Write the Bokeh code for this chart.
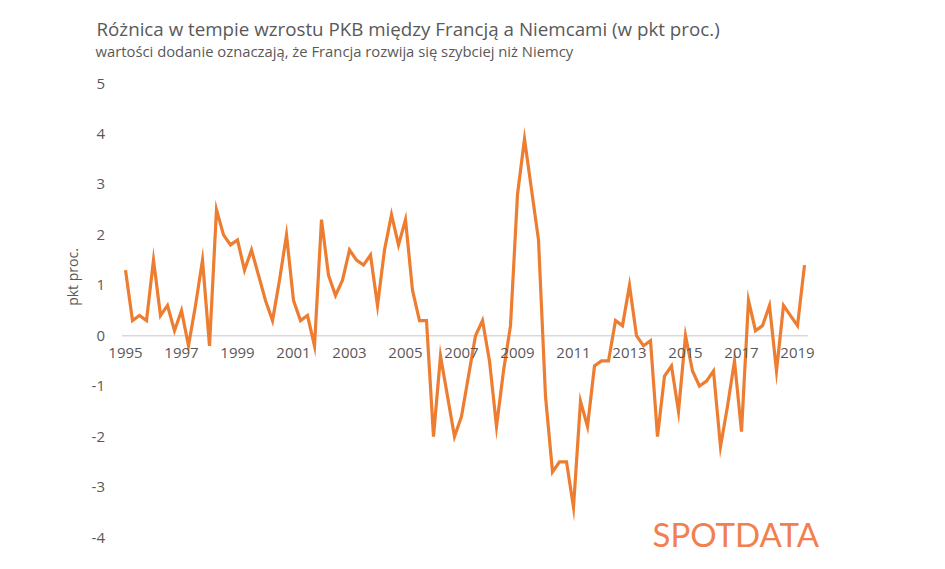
from bokeh.plotting import figure
from bokeh.models import Range1d, FixedTicker, Label
from bokeh.embed import file_html
from bokeh.resources import INLINE

title_text = "Różnica w tempie wzrostu PKB między Francją a Niemcami (w pkt proc.)"
subtitle_text = "wartości dodanie oznaczają, że Francja rozwija się szybciej niż Niemcy"
y_label = "pkt proc."
logo_text = "SPOTDATA"

start_year = 1995
# quarterly difference in GDP growth (France - Germany), 1995Q1 .. 2019Q2
values = [
    1.3, 0.3, 0.4, 0.3, 1.5, 0.4, 0.6, 0.1, 0.5, -0.2, 0.6, 1.5,
    -0.2, 2.5, 2.0, 1.8, 1.9, 1.3, 1.7, 1.2, 0.7, 0.3, 1.1, 2.0,
    0.7, 0.3, 0.4, -0.2, 2.3, 1.2, 0.8, 1.1, 1.7, 1.5, 1.4, 1.6,
    0.6, 1.7, 2.4, 1.8, 2.3, 0.9, 0.3, 0.3, -2.0, -0.4, -1.2, -2.0,
    -1.6, -0.8, 0.0, 0.3, -0.5, -1.8, -0.7, 0.2, 2.8, 3.9, 2.9, 1.9,
    -1.2, -2.7, -2.5, -2.5, -3.4, -1.3, -1.8, -0.6, -0.5, -0.5, 0.3, 0.2,
    1.0, 0.0, -0.2, -0.1, -2.0, -0.8, -0.6, -1.5, 0.0, -0.7, -1.0, -0.9,
    -0.7, -2.2, -1.4, -0.5, -1.9, 0.7, 0.1, 0.2, 0.6, -0.7, 0.6, 0.4,
    0.2, 1.4,
]
tick_years = [1995, 1997, 1999, 2001, 2003, 2005, 2007, 2009, 2011, 2013, 2015, 2017, 2019]
tick_year_labels = [str(y) for y in tick_years]
y_ticks = [-4, -3, -2, -1, 0, 1, 2, 3, 4, 5]
y_tick_labels = ["-4", "-3", "-2", "-1", "0", "1", "2", "3", "4", "5"]

x = [start_year + i / 4 for i in range(len(values))]

TEXT = "#595959"
ORANGE = "#ED7D31"
FONT = "Open Sans"

# layout (canvas pixels)
W, H = 929, 553
AREA_LEFT, AREA_TOP, AREA_BOTTOM = 121.5, 83.0, 537.0
PX_PER_YEAR = 28.0
Y_MIN, Y_MAX = -4, 5

x_lo = x[0] - 0.125
x_hi = x[-1] + 0.125
px_per_unit = (AREA_BOTTOM - AREA_TOP) / (Y_MAX - Y_MIN)

x_range = Range1d(x_lo - AREA_LEFT / PX_PER_YEAR, x_lo + (W - AREA_LEFT) / PX_PER_YEAR)
y_range = Range1d(Y_MIN - (H - AREA_BOTTOM) / px_per_unit, Y_MAX + AREA_TOP / px_per_unit)

p = figure(
    frame_width=W, frame_height=H,
    min_border=0,
    x_range=x_range, y_range=y_range,
    output_backend="svg", toolbar_location=None, tools="",
    background_fill_color="white", border_fill_color="white",
)
p.outline_line_color = None
p.grid.visible = False

# zero line (horizontal axis line of the plot area)
p.segment(x0=[x_lo], x1=[x_hi], y0=[0], y1=[0], line_color="#D9D9D9", line_width=1.5)

p.line(x, values, line_color=ORANGE, line_width=3.2, line_join="miter")

# x axis drawn at y = 0
xa = p.xaxis[0]
xa.fixed_location = 0
xa.ticker = FixedTicker(ticks=tick_years)
xa.major_label_overrides = dict(zip(tick_years, tick_year_labels))
xa.axis_line_color = None
xa.major_tick_line_color = None
xa.minor_tick_line_color = None
xa.major_tick_out = 0
xa.major_label_standoff = 12
xa.major_label_text_font = FONT
xa.major_label_text_font_size = "15px"
xa.major_label_text_color = TEXT

ya = p.yaxis[0]
ya.fixed_location = x_lo
ya.ticker = FixedTicker(ticks=y_ticks)
ya.major_label_overrides = dict(zip(y_ticks, y_tick_labels))
ya.axis_line_color = None
ya.major_tick_line_color = None
ya.minor_tick_line_color = None
ya.major_tick_out = 0
ya.major_label_standoff = 17
ya.major_label_text_font = FONT
ya.major_label_text_font_size = "15px"
ya.major_label_text_color = TEXT
ya.axis_label = y_label
ya.axis_label_text_font = FONT
ya.axis_label_text_font_size = "14px"
ya.axis_label_text_font_style = "normal"
ya.axis_label_text_color = TEXT
ya.axis_label_standoff = 7

p.add_layout(Label(x=96, y=H - 36 + 8.5, x_units="screen", y_units="screen", text=title_text,
                   text_font=FONT, text_font_size="18.75px", text_color=TEXT,
                   text_baseline="alphabetic"))
p.add_layout(Label(x=95, y=H - 57 + 6.5, x_units="screen", y_units="screen", text=subtitle_text,
                   text_font=FONT, text_font_size="14.8px", text_color=TEXT,
                   text_baseline="alphabetic"))
p.add_layout(Label(x=652, y=H - 547 + 14, x_units="screen", y_units="screen", text=logo_text,
                   text_font="Lato", text_font_size="33px", text_color="#F2804F",
                   text_baseline="alphabetic"))

open("out.html", "w").write(file_html(p, INLINE))
